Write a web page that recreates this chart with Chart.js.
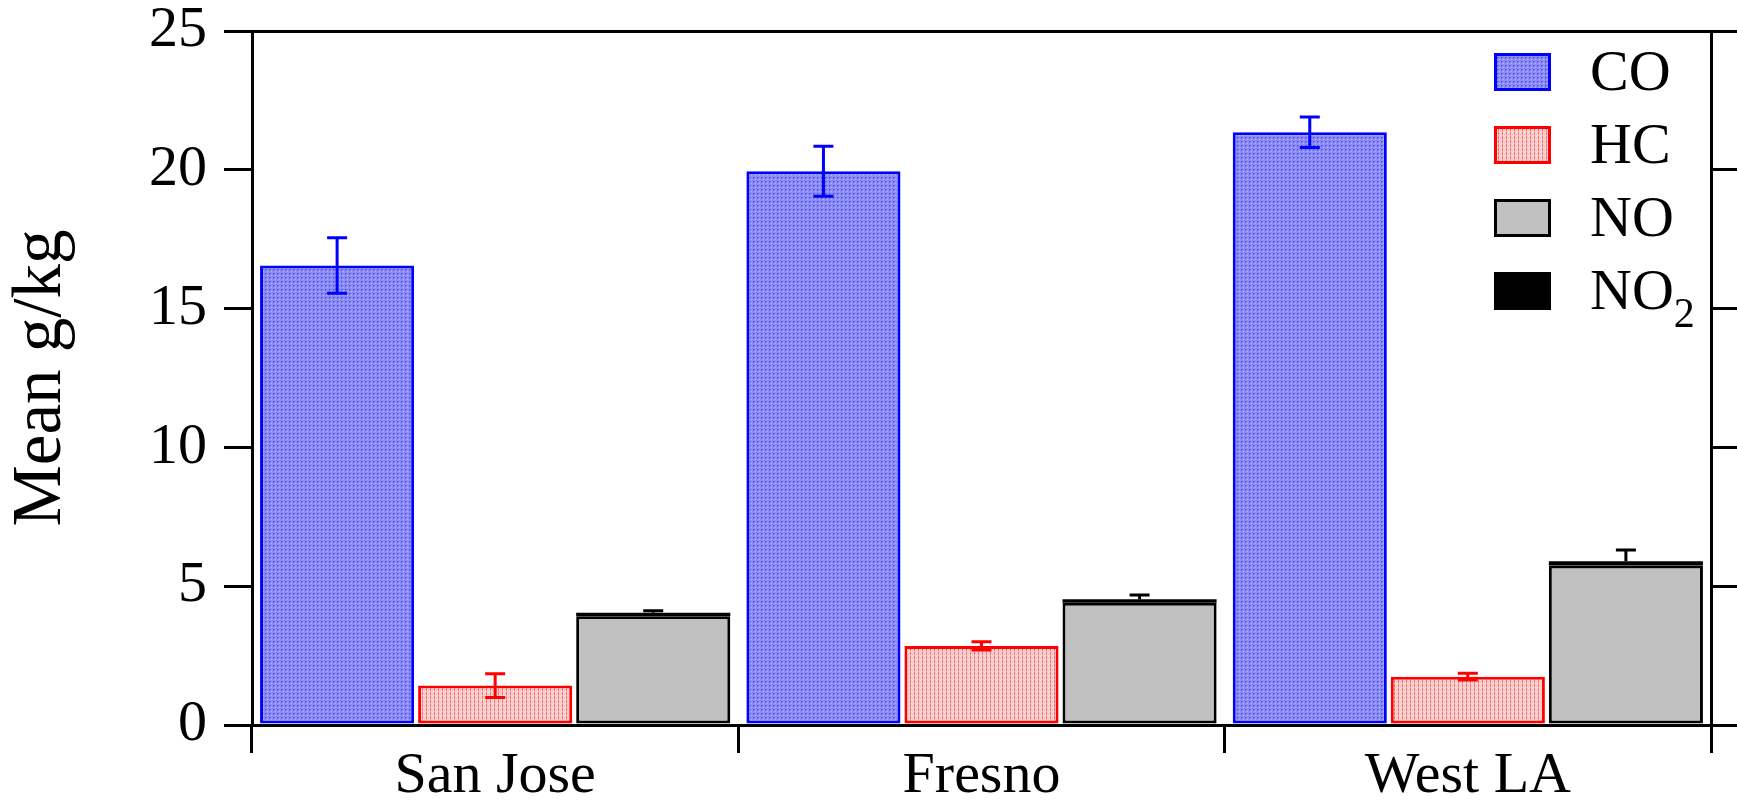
<!DOCTYPE html>
<html>
<head>
<meta charset="utf-8">
<script src="https://cdn.jsdelivr.net/npm/chart.js@4.4.0/dist/chart.umd.min.js"></script>
<style>
  html, body { margin: 0; padding: 0; background: #fff; }
  #wrap { width: 1737px; height: 804px; }
</style>
</head>
<body>
<div id="wrap"><canvas id="emissionChart" width="1737" height="804"></canvas></div>
<script>
// values (g/kg)
const categories = ['San Jose', 'Fresno', 'West LA'];
const coMean  = [16.55, 19.95, 21.35];
const coErr   = [1.00, 0.90, 0.55];
const hcMean  = [1.42, 2.85, 1.74];
const hcErr   = [0.43, 0.15, 0.12];
const noMean  = [3.92, 4.40, 5.75];
const no2Mean = [0.12, 0.13, 0.15];
const noxErr  = [0.08, 0.15, 0.40];
const yTicks  = [0, 5, 10, 15, 20, 25];

const serif = '"Liberation Serif", "Times New Roman", serif';

function makePattern(base, dots) {
    const c = document.createElement('canvas');
    c.width = 4; c.height = 4;
    const g = c.getContext('2d');
    g.fillStyle = base;
    g.fillRect(0, 0, 4, 4);
    dots.forEach(d => { g.fillStyle = d[2]; g.fillRect(d[0], d[1], 1, 1); });
    return g.createPattern(c, 'repeat');
}

const coFill = makePattern('#8e8ef4', [[1, 1, '#4848f0'], [2, 1, '#6a6af2'], [1, 2, '#6a6af2'], [3, 3, '#b0b0fa']]);
const hcFill = makePattern('#ffd2d2', [[2, 0, '#f28a8a'], [2, 1, '#e8505c'], [2, 2, '#f28a8a'], [2, 3, '#f6a8a8'], [0, 2, '#fbb8b8']]);

const errorBars = {
    id: 'errorBars',
    afterDatasetsDraw(chart) {
        const ctx = chart.ctx;
        const y = chart.scales.y;
        chart.data.datasets.forEach((ds, di) => {
            if (!ds.errors) return;
            const meta = chart.getDatasetMeta(di);
            meta.data.forEach((bar, i) => {
                const top = y.getValueForPixel(bar.y);
                const hi = y.getPixelForValue(top + ds.errors[i]);
                const lo = ds.upOnly ? bar.y : y.getPixelForValue(top - ds.errors[i]);
                const cap = 10;
                ctx.save();
                ctx.strokeStyle = ds.errorColor;
                ctx.lineWidth = 3;
                ctx.beginPath();
                ctx.moveTo(bar.x, hi); ctx.lineTo(bar.x, lo);
                ctx.moveTo(bar.x - cap, hi); ctx.lineTo(bar.x + cap, hi);
                if (!ds.upOnly) { ctx.moveTo(bar.x - cap, lo); ctx.lineTo(bar.x + cap, lo); }
                ctx.stroke();
                ctx.restore();
            });
        });
    }
};

// legend drawn inside the plot, top right
const boxLegend = {
    id: 'boxLegend',
    afterDraw(chart) {
        const ctx = chart.ctx;
        const area = chart.chartArea;
        const left = area.right - 217;
        let top = area.top + 22;
        ctx.save();
        chart.data.datasets.forEach(ds => {
            ctx.fillStyle = ds.backgroundColor;
            ctx.fillRect(left, top, 57, 38);
            if (ds.borderWidth) {
                ctx.strokeStyle = ds.borderColor;
                ctx.lineWidth = 3;
                ctx.strokeRect(left + 1.5, top + 1.5, 54, 35);
            }
            ctx.fillStyle = '#000';
            ctx.textBaseline = 'alphabetic';
            ctx.textAlign = 'left';
            ctx.font = '58px ' + serif;
            const m = ds.label.match(/^([A-Z]+)(\d*)$/);
            ctx.fillText(m[1], left + 96, top + 37);
            if (m[2]) {
                const w = ctx.measureText(m[1]).width;
                ctx.font = '42px ' + serif;
                ctx.fillText(m[2], left + 96 + w, top + 55);
            }
            top += 73;
        });
        ctx.restore();
    }
};

const axisGrid = {
    drawOnChartArea: false,
    tickLength: 28,
    lineWidth: 3,
    color: '#000'
};

function noPad(s) {
    s.paddingTop = 0; s.paddingBottom = 0; s.paddingLeft = 0; s.paddingRight = 0;
}

const ctx = document.getElementById('emissionChart').getContext('2d');
const emissionChart = new Chart(ctx, {
    type: 'bar',
    data: {
        labels: categories,
        datasets: [
            {
                label: 'CO',
                data: coMean,
                stack: 'co',
                backgroundColor: coFill,
                borderColor: '#0000ff',
                borderWidth: 3,
                borderSkipped: false,
                errors: coErr,
                errorColor: '#0000ff'
            },
            {
                label: 'HC',
                data: hcMean,
                stack: 'hc',
                backgroundColor: hcFill,
                borderColor: '#ff0000',
                borderWidth: 3,
                borderSkipped: false,
                errors: hcErr,
                errorColor: '#ff0000'
            },
            {
                label: 'NO',
                data: noMean,
                stack: 'nox',
                backgroundColor: '#c0c0c0',
                borderColor: '#000000',
                borderWidth: 3,
                borderSkipped: false
            },
            {
                label: 'NO2',
                data: no2Mean,
                stack: 'nox',
                backgroundColor: '#000000',
                borderColor: '#000000',
                borderWidth: 0,
                errors: noxErr,
                upOnly: true,
                errorColor: '#000000'
            }
        ]
    },
    options: {
        responsive: false,
        animation: false,
        barPercentage: 0.975,
        categoryPercentage: 0.975,
        layout: { padding: 0 },
        plugins: {
            legend: { display: false },
            tooltip: { enabled: false }
        },
        scales: {
            x: {
                type: 'category',
                position: 'bottom',
                stacked: true,
                grid: Object.assign({ offset: true }, axisGrid),
                border: { display: true, width: 3, color: '#000' },
                ticks: { color: '#000', font: { family: serif, size: 58 }, padding: -11, maxRotation: 0 },
                afterFit: s => { s.height = 79; noPad(s); }
            },
            x2: {
                type: 'category',
                position: 'top',
                labels: categories,
                grid: { display: false },
                ticks: { display: false },
                border: { display: true, width: 3, color: '#000' },
                afterFit: s => { s.height = 31; noPad(s); }
            },
            y: {
                position: 'left',
                stacked: true,
                min: 0,
                max: 25,
                afterBuildTicks: s => { s.ticks = yTicks.map(v => ({ value: v })); },
                grid: axisGrid,
                border: { display: true, width: 3, color: '#000' },
                ticks: { color: '#000', font: { family: serif, size: 58 }, padding: 17 },
                title: {
                    display: true,
                    text: 'Mean g/kg',
                    color: '#000',
                    font: { family: serif, size: 69 },
                    padding: { top: 0, bottom: 0 }
                },
                afterFit: s => { s.width = 252; noPad(s); }
            },
            y2: {
                position: 'right',
                min: 0,
                max: 25,
                afterBuildTicks: s => { s.ticks = yTicks.map(v => ({ value: v })); },
                grid: axisGrid,
                border: { display: true, width: 3, color: '#000' },
                ticks: { display: false },
                afterFit: s => { s.width = 26; noPad(s); }
            }
        }
    },
    plugins: [errorBars, boxLegend]
});
</script>
</body>
</html>
